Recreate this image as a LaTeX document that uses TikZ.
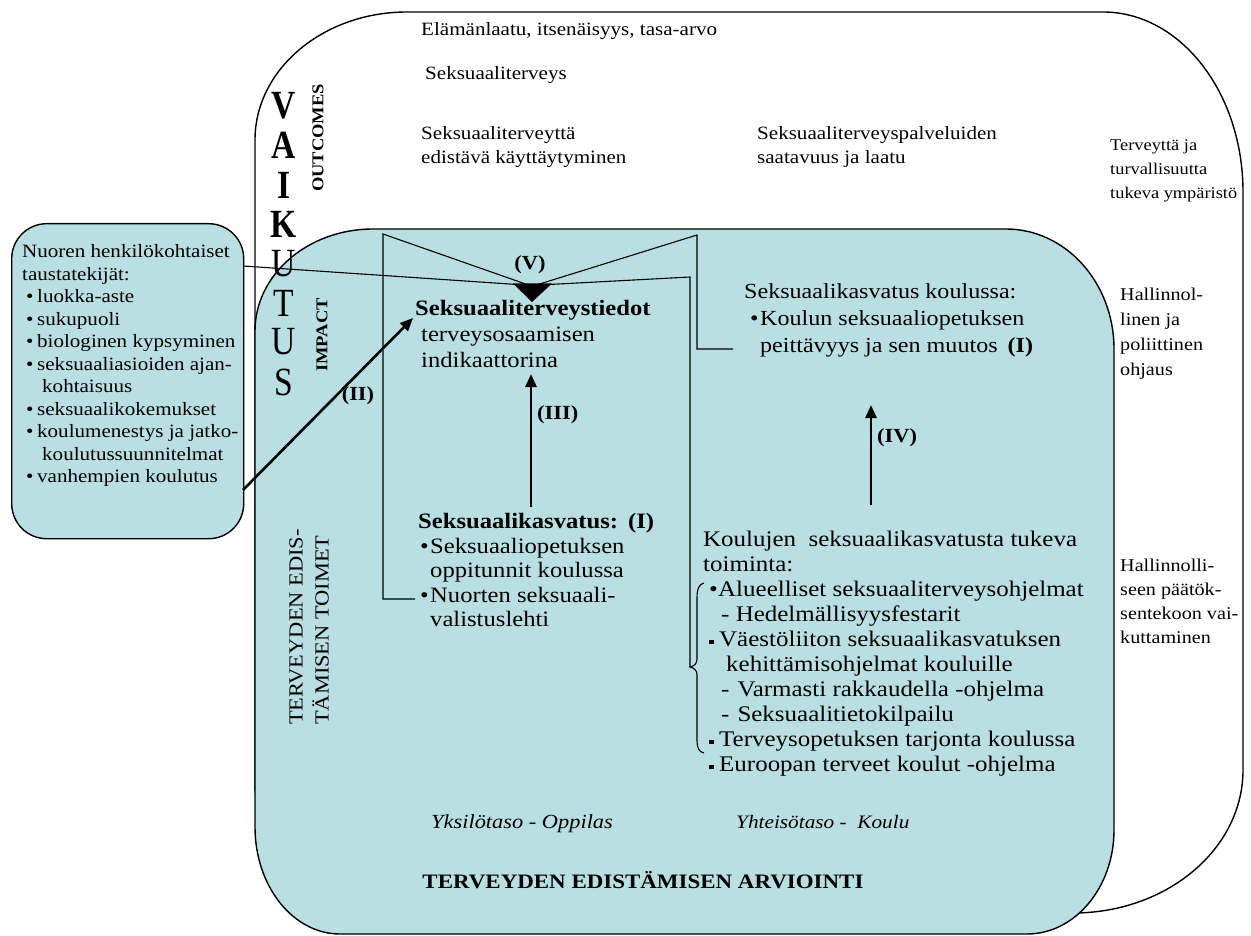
\documentclass[tikz,border=0pt]{standalone}
\usepackage{fontspec}
\setmainfont[FakeStretch=1.12]{Liberation Serif}
\usepackage{graphicx}
\usetikzlibrary{arrows.meta}
\definecolor{boxblue}{RGB}{185,223,227}
\newcommand{\fsz}[2]{\fontsize{#1}{#2}\selectfont}
\newcommand{\lbb}{\hspace*{4pt}\makebox[11pt][l]{\textbullet}}
\newcommand{\sqbul}{\makebox[10pt][l]{\raisebox{2.5pt}{\rule{4.5pt}{4.5pt}}}}
\newcommand{\vk}[1]{\scalebox{0.75}[1]{#1}}
\begin{document}
\begin{tikzpicture}[x=1pt,y=-1pt,
  ln/.style={line width=1.1pt},
  boxline/.style={line width=1.4pt},
  thickarrow/.style={line width=2.6pt,-{Triangle[length=13pt,width=11pt]}},
  blk/.style={inner sep=0pt,anchor=north west,align=left},
  one/.style={inner sep=0pt,anchor=base west},
  vlet/.style={inner sep=0pt,anchor=center,font=\fsz{40}{40}},
  rlab/.style={inner sep=0pt,rotate=90,anchor=center,font=\bfseries\fsz{16.5}{18}},
  lab/.style={inner sep=0pt,anchor=base,font=\bfseries\fsz{20}{24}},
]
\useasboundingbox (0,0) rectangle (1251,936);
\fill[white] (0,0) rectangle (1251,936);

% outer white box
\draw[boxline,fill=white] (407,12) -- (1103,12) .. controls (1180.3,12) and (1243,92.6) .. (1243,192)
  -- (1243,770) .. controls (1243,849) and (1166.9,913) .. (1073,913)
  -- (400,913) .. controls (319.9,913) and (255,854.8) .. (255,783)
  -- (255,140) .. controls (255,69.3) and (323.1,12) .. (407,12) -- cycle;

% blue box
\draw[boxline,fill=boxblue] (373,229) -- (1006,229) .. controls (1065.6,229) and (1114,282.7) .. (1114,349)
  -- (1114,830) .. controls (1114,887.4) and (1075,934) .. (1027,934)
  -- (340,934) .. controls (293,934) and (255,886.1) .. (255,827)
  -- (255,331) .. controls (255,274.7) and (307.8,229) .. (373,229) -- cycle;

% left box
\node[draw,boxline,fill=boxblue,rounded corners=35pt,minimum width=232pt,minimum height=315pt,anchor=north west,inner sep=0pt] (lb) at (11,223) {};

% top texts
\node[blk,font=\fsz{18.8}{24}] (elam) at (421,18.8) {\strut Elämänlaatu, itsenäisyys, tasa-arvo};
\node[blk,font=\fsz{18.8}{24}] (seksv) at (425,62.8) {\strut Seksuaaliterveys};
\node[blk,font=\fsz{18.8}{24}] (seksk) at (421,122.8) {\strut Seksuaaliterveyttä\\edistävä käyttäytyminen};
\node[blk,font=\fsz{18.8}{24}] (palv) at (757,122.8) {\strut Seksuaaliterveyspalveluiden\\saatavuus ja laatu};
\node[blk,font=\fsz{16.4}{24}] (turv) at (1110,133.2) {\strut Terveyttä ja\\turvallisuutta\\tukeva ympäristö};

% rotated labels
\node[rlab] (outc) at (318,138) {OUTCOMES};
\node[rlab] (imp) at (322,335) {IMPACT};
\node[inner sep=0pt,rotate=90,anchor=center,align=left,font=\fsz{20}{26}] (tet) at (309,627) {TERVEYDEN EDIS-\\TÄMISEN TOIMET};

% connectors (drawn below the letters)
\coordinate (tri) at (532,285);
\coordinate (lbl) at (243,266);
\coordinate (b1e) at (415,599);
\coordinate (b2e) at (733,349);
\coordinate (brtip) at (690,667);
\fill (513,283.5) -- (552,283.5) -- (tri |- 0,302) -- cycle;
\draw[ln] (lbl) -- (517,284.5);
\draw[ln] (b1e) -- (383,599) -- (383,234) -- (527,284.5);
\draw[ln] (538,284.5) -- (697,235) -- (697,349) -- (b2e);
\draw[ln] (549,284.5) -- (690,277) -- (brtip);
\draw[ln] (704,583) .. controls (699,584) and (697,589) .. (697,598) -- (697,659)
  .. controls (697,664) and (694,666) .. (brtip) .. controls (694,668) and (697,670) .. (697,675)
  -- (697,741) .. controls (697,748) and (699,752) .. (704,753);

% VAIKUTUS
\node[vlet] (v1) at (284,106) {\vk{\bfseries V}};
\node[vlet] (v2) at (284,145) {\vk{\bfseries A}};
\node[vlet] (v3) at (284,185) {\vk{\bfseries I}};
\node[vlet] (v4) at (284,224) {\vk{\bfseries K}};
\node[vlet] (v5) at (284,264) {\vk{U}};
\node[vlet] (v6) at (284,303) {\vk{T}};
\node[vlet] (v7) at (284,342) {\vk{U}};
\node[vlet] (v8) at (284,382) {\vk{S}};

% left box text
\node[blk,font=\fsz{18.8}{22.5}] (lbt) at (22,241.9) {\strut Nuoren henkilökohtaiset\\taustatekijät:\\\lbb luokka-aste\\\lbb sukupuoli\\\lbb biologinen kypsyminen\\\lbb seksuaaliasioiden ajan-\\\hspace*{20pt}kohtaisuus\\\lbb seksuaalikokemukset\\\lbb koulumenestys ja jatko-\\\hspace*{20pt}koulutussuunnitelmat\\\lbb vanhempien koulutus};

% centre column
\node[blk,font=\bfseries\fsz{22}{27}] (stied) at (415,296.7) {\strut Seksuaaliterveystiedot};
\node[blk,font=\fsz{22}{26}] (tos) at (421,323.5) {\strut terveysosaamisen\\indikaattorina};
\node[blk,font=\fsz{22}{24.5}] (sk) at (418,511.5) {\strut\textbf{Seksuaalikasvatus:}\hspace{10pt}\textbf{(I)}\\\hspace*{2pt}\makebox[10pt][l]{\textbullet}Seksuaaliopetuksen\\\hspace*{12pt}oppitunnit koulussa\\\hspace*{2pt}\makebox[10pt][l]{\textbullet}Nuorten seksuaali-\\\hspace*{12pt}valistuslehti};

% right column
\node[blk,font=\fsz{21.5}{27}] (skk) at (744,279.5) {\strut Seksuaalikasvatus koulussa:\\\hspace*{6pt}\makebox[10pt][l]{\textbullet}Koulun seksuaaliopetuksen\\\hspace*{16pt}peittävyys ja sen muutos\hspace{10pt}\textbf{(I)}};
\node[blk,font=\fsz{22.3}{25}] (kst) at (703,529.2) {\strut Koulujen\ \ seksuaalikasvatusta tukeva\\toiminta:\\\hspace*{6pt}\makebox[9pt][l]{\textbullet}Alueelliset seksuaaliterveysohjelmat\\\hspace*{18pt}- Hedelmällisyysfestarit\\\hspace*{6pt}\sqbul Väestöliiton seksuaalikasvatuksen\\\hspace*{23pt}kehittämisohjelmat kouluille\\\hspace*{18pt}-\hspace{8pt}Varmasti rakkaudella -ohjelma\\\hspace*{18pt}-\hspace{8pt}Seksuaalitietokilpailu\\\hspace*{6pt}\sqbul Terveysopetuksen tarjonta koulussa\\\hspace*{6pt}\sqbul Euroopan terveet koulut -ohjelma};

% right panel
\node[blk,font=\fsz{18}{25}] (hal1) at (1120,282.9) {\strut Hallinnol-\\linen ja\\poliittinen\\ohjaus};
\node[blk,font=\fsz{18}{24}] (hal2) at (1120,554.6) {\strut Hallinnolli-\\seen päätök-\\sentekoon vai-\\kuttaminen};

% bottom
\node[one,font=\itshape\fsz{20}{24}] (yks) at (431,828) {Yksilötaso - Oppilas};
\node[one,font=\itshape\fsz{19}{24}] (yht) at (736,828) {Yhteisötaso -\ \ Koulu};
\node[inner sep=0pt,anchor=base,font=\bfseries\fsz{20.5}{24}] (arv) at (643,888) {TERVEYDEN EDISTÄMISEN ARVIOINTI};

% arrows
\coordinate (lbar) at (243,490);
\coordinate (iiend) at (413,318);
\coordinate (iiis) at (531,507);
\coordinate (iiie) at (531,374);
\coordinate (ivs) at (871,505);
\coordinate (ive) at (871,405);
\draw[thickarrow] (lbar) -- (iiend);
\draw[thickarrow] (iiis) -- (iiie);
\draw[thickarrow] (ivs) -- (ive);

% arrow labels
\node[lab] (lV) at (530,270) {(V)};
\node[lab] (lII) at (358,400) {(II)};
\node[lab,anchor=base west] (lIII) at (537,419) {(III)};
\node[lab,anchor=base west] (lIV) at (877,442) {(IV)};
\end{tikzpicture}
\end{document}
